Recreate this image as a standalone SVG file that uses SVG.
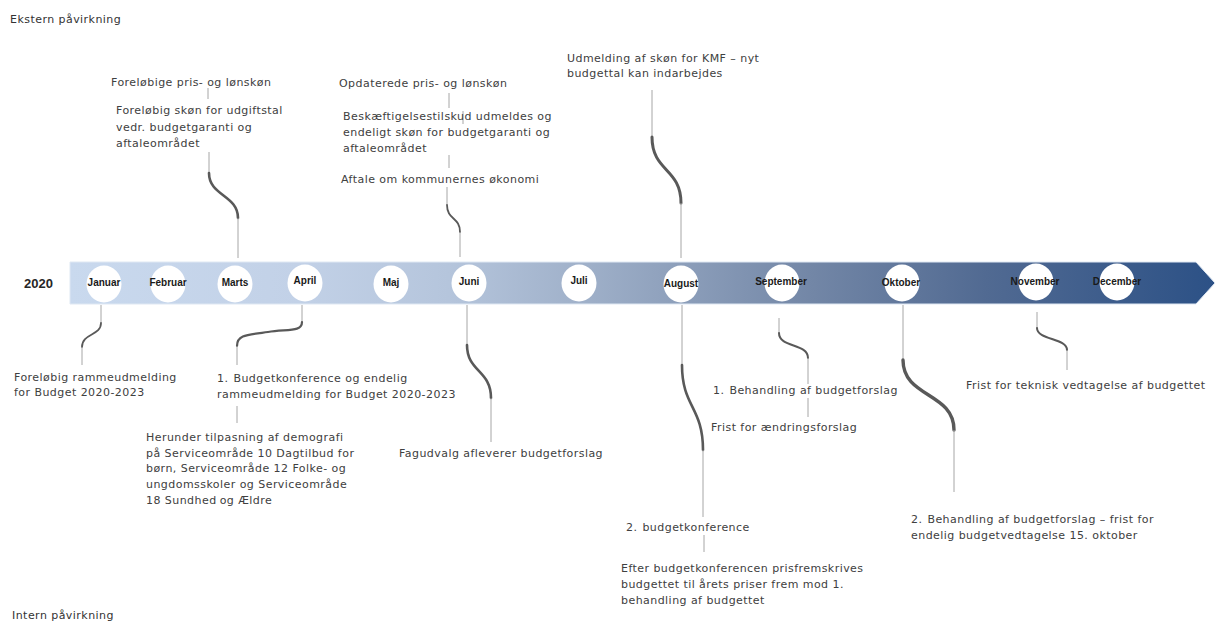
<svg xmlns="http://www.w3.org/2000/svg" width="1215" height="623" viewBox="0 0 1215 623">
<defs>
<linearGradient id="band" gradientUnits="userSpaceOnUse" x1="70" y1="0" x2="1215" y2="0">
<stop offset="0" stop-color="#c9d9ee"/>
<stop offset="0.2" stop-color="#c2d1e7"/>
<stop offset="0.33" stop-color="#b5c5dc"/>
<stop offset="0.45" stop-color="#9fb0c9"/>
<stop offset="0.65" stop-color="#7286a6"/>
<stop offset="0.8" stop-color="#516a92"/>
<stop offset="1" stop-color="#2c5186"/>
</linearGradient>
<style>
.t{font-family:"DejaVu Sans","Liberation Sans",sans-serif;font-size:11px;letter-spacing:0.45px;fill:#404040}
.h{font-family:"DejaVu Sans","Liberation Sans",sans-serif;font-size:11px;letter-spacing:0.45px;fill:#333333}
.m{font-family:"Liberation Sans",Arial,sans-serif;font-weight:bold;font-size:10px;fill:#1a1a1a;text-anchor:middle}
.y{font-family:"Liberation Sans",Arial,sans-serif;font-weight:bold;font-size:13px;fill:#262626}
.c{fill:#ffffff}
.thin{stroke:#a6a6a6;stroke-width:1;fill:none}
.crv{stroke:#595959;stroke-width:2.6;fill:none;stroke-linecap:round}
</style>
</defs>
<rect width="1215" height="623" fill="#ffffff"/>

<text class="h" x="10" y="23">Ekstern påvirkning</text>
<text class="h" x="12" y="619">Intern påvirkning</text>

<g id="timeline">
<polygon points="70,262 1196,262 1215,283 1196,304 70,304" fill="url(#band)" stroke="#dfe8f3" stroke-width="1"/>
<text class="y" x="24" y="288">2020</text>
</g>

<g id="months">
<g id="m-jan"><ellipse class="c" cx="104" cy="284" rx="17.5" ry="18.5"/><text class="m" x="104" y="286">Januar</text></g>
<g id="m-feb"><ellipse class="c" cx="168" cy="284" rx="17.5" ry="18.5"/><text class="m" x="168" y="286">Februar</text></g>
<g id="m-mar"><ellipse class="c" cx="235" cy="284" rx="17.5" ry="18.5"/><text class="m" x="235" y="286">Marts</text></g>
<g id="m-apr"><ellipse class="c" cx="305" cy="283" rx="17.5" ry="18.5"/><text class="m" x="305" y="284">April</text></g>
<g id="m-maj"><ellipse class="c" cx="391" cy="284" rx="17.5" ry="18.5"/><text class="m" x="391" y="286">Maj</text></g>
<g id="m-jun"><ellipse class="c" cx="469" cy="283" rx="17.5" ry="18.5"/><text class="m" x="469" y="285">Juni</text></g>
<g id="m-jul"><ellipse class="c" cx="579" cy="283" rx="17.5" ry="18.5"/><text class="m" x="579" y="284">Juli</text></g>
<g id="m-aug"><ellipse class="c" cx="681" cy="284" rx="17.5" ry="18.5"/><text class="m" x="681" y="287">August</text></g>
<g id="m-sep"><ellipse class="c" cx="782" cy="283" rx="17.5" ry="18.5"/><text class="m" x="781" y="285">September</text></g>
<g id="m-okt"><ellipse class="c" cx="902" cy="283" rx="17.5" ry="18.5"/><text class="m" x="901" y="286">Oktober</text></g>
<g id="m-nov"><ellipse class="c" cx="1036" cy="282" rx="17.5" ry="18.5"/><text class="m" x="1035" y="285">November</text></g>
<g id="m-dec"><ellipse class="c" cx="1117" cy="282" rx="17.5" ry="18.5"/><text class="m" x="1117" y="285">December</text></g>
</g>

<g id="connectors">
<line class="thin" x1="208" y1="88" x2="208" y2="99"/>
<line class="thin" x1="209" y1="152" x2="209" y2="173"/>
<path class="crv" d="M209,173 C209,196 238,195 238,218"/>
<line class="thin" x1="238" y1="218" x2="238" y2="258"/>
<line class="thin" x1="449" y1="93" x2="449" y2="108"/>
<line class="thin" x1="463" y1="111" x2="463" y2="124"/>
<line class="thin" x1="449" y1="155" x2="449" y2="168"/>
<line class="thin" x1="447" y1="187" x2="447" y2="205"/>
<path class="crv" style="stroke-width:1.8" d="M447,205 C447,220 460,217 460,232"/>
<line class="thin" x1="460" y1="232" x2="460" y2="257"/>
<line class="thin" x1="652" y1="90" x2="652" y2="137"/>
<path class="crv" style="stroke-width:3" d="M652,137 C652,172 681,168 681,203"/>
<line class="thin" x1="681" y1="203" x2="681" y2="258"/>
<line class="thin" x1="101" y1="305" x2="101" y2="323"/>
<path class="crv" style="stroke-width:1.8" d="M101,323 C101,336 82,333 82,347"/>
<line class="thin" x1="82" y1="347" x2="82" y2="365"/>
<line class="thin" x1="302" y1="305" x2="302" y2="322"/>
<path class="crv" style="stroke-width:2.2" d="M302,322 C302,332 288,329 268,332 C246,335 237,335 237,346"/>
<line class="thin" x1="237" y1="346" x2="237" y2="365"/>
<line class="thin" x1="237" y1="406" x2="237" y2="423"/>
<line class="thin" x1="467" y1="305" x2="467" y2="345"/>
<path class="crv" d="M467,345 C467,372 491,370 491,398"/>
<line class="thin" x1="491" y1="398" x2="491" y2="442"/>
<line class="thin" x1="682" y1="305" x2="682" y2="365"/>
<path class="crv" d="M682,365 C682,407 703,407 703,450"/>
<line class="thin" x1="703" y1="450" x2="703" y2="517"/>
<line class="thin" x1="704" y1="535" x2="704" y2="552"/>
<line class="thin" x1="779" y1="318" x2="779" y2="333"/>
<path class="crv" style="stroke-width:2" d="M779,333 C779,348 808,343 808,358"/>
<line class="thin" x1="808" y1="358" x2="808" y2="384"/>
<line class="thin" x1="808" y1="398" x2="808" y2="417"/>
<line class="thin" x1="903" y1="305" x2="903" y2="360"/>
<path class="crv" style="stroke-width:3.4" d="M903,360 C903,398 954,392 954,430"/>
<line class="thin" x1="954" y1="430" x2="954" y2="492"/>
<line class="thin" x1="1037" y1="312" x2="1037" y2="328"/>
<path class="crv" style="stroke-width:2" d="M1037,328 C1037,340 1067,338 1067,350"/>
<line class="thin" x1="1067" y1="350" x2="1067" y2="370"/>
</g>

<g id="n-foreloebige-pris">
<text class="t" x="111" y="86">Foreløbige pris- og lønskøn</text>
</g>
<g id="n-foreloebig-skoen">
<text class="t" x="116" y="114">Foreløbig skøn for udgiftstal</text>
<text class="t" x="116" y="130.5">vedr. budgetgaranti og</text>
<text class="t" x="116" y="147">aftaleområdet</text>
</g>
<g id="n-opdaterede">
<text class="t" x="339" y="87">Opdaterede pris- og lønskøn</text>
</g>
<g id="n-beskaeftigelse">
<text class="t" x="343" y="120">Beskæftigelsestilskud udmeldes og</text>
<text class="t" x="343" y="136">endeligt skøn for budgetgaranti og</text>
<text class="t" x="343" y="152">aftaleområdet</text>
</g>
<g id="n-aftale">
<text class="t" x="341" y="183">Aftale om kommunernes økonomi</text>
</g>
<g id="n-kmf">
<text class="t" x="567" y="62">Udmelding af skøn for KMF – nyt</text>
<text class="t" x="567" y="77">budgettal kan indarbejdes</text>
</g>
<g id="n-rammeudmelding">
<text class="t" x="14" y="381">Foreløbig rammeudmelding</text>
<text class="t" x="14" y="396">for Budget 2020-2023</text>
</g>
<g id="n-budgetkonf1">
<text class="t" x="217" y="382">1.<tspan dx="5">Budgetkonference og endelig</tspan></text>
<text class="t" x="217" y="398">rammeudmelding for Budget 2020-2023</text>
</g>
<g id="n-herunder">
<text class="t" x="146" y="441">Herunder tilpasning af demografi</text>
<text class="t" x="146" y="457">på Serviceområde 10 Dagtilbud for</text>
<text class="t" x="146" y="472">børn, Serviceområde 12 Folke- og</text>
<text class="t" x="146" y="488">ungdomsskoler og Serviceområde</text>
<text class="t" x="146" y="504">18 Sundhed<tspan dx="3">og Ældre</tspan></text>
</g>
<g id="n-fagudvalg">
<text class="t" x="399" y="457">Fagudvalg afleverer budgetforslag</text>
</g>
<g id="n-budgetkonf2">
<text class="t" x="626" y="531">2.<tspan dx="5">budgetkonference</tspan></text>
</g>
<g id="n-efter">
<text class="t" x="621" y="572">Efter budgetkonferencen prisfremskrives</text>
<text class="t" x="621" y="588">budgettet til årets priser frem mod 1.</text>
<text class="t" x="621" y="604">behandling af budgettet</text>
</g>
<g id="n-behandling1">
<text class="t" x="713" y="394">1.<tspan dx="5">Behandling af budgetforslag</tspan></text>
</g>
<g id="n-frist-aendring">
<text class="t" x="711" y="431">Frist for ændringsforslag</text>
</g>
<g id="n-behandling2">
<text class="t" x="911" y="523">2.<tspan dx="5">Behandling af budgetforslag – frist for</tspan></text>
<text class="t" x="911" y="539">endelig budgetvedtagelse 15. oktober</text>
</g>
<g id="n-frist-teknisk">
<text class="t" x="966" y="389">Frist for teknisk vedtagelse af budgettet</text>
</g>
</svg>
